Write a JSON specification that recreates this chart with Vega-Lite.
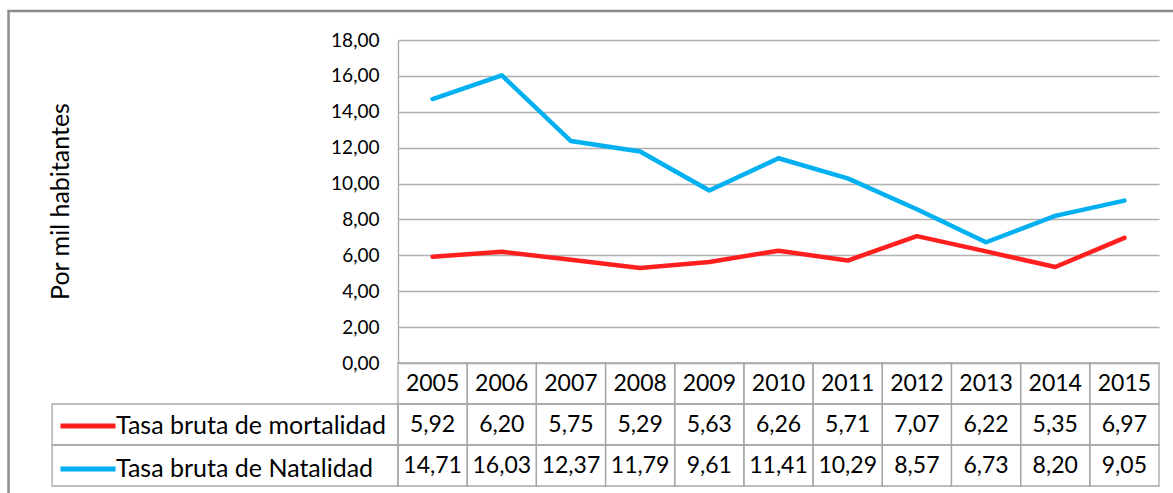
{
  "$schema": "https://vega.github.io/schema/vega-lite/v6.json",
  "width": 761,
  "height": 446,
  "autosize": {"type": "none"},
  "padding": {"left": 398, "top": 40, "right": 14, "bottom": 7},
  "background": "white",
  "datasets": {
    "tasas": [
      {"year": 2005, "serie": "Tasa bruta de mortalidad", "value": 5.92},
      {"year": 2006, "serie": "Tasa bruta de mortalidad", "value": 6.20},
      {"year": 2007, "serie": "Tasa bruta de mortalidad", "value": 5.75},
      {"year": 2008, "serie": "Tasa bruta de mortalidad", "value": 5.29},
      {"year": 2009, "serie": "Tasa bruta de mortalidad", "value": 5.63},
      {"year": 2010, "serie": "Tasa bruta de mortalidad", "value": 6.26},
      {"year": 2011, "serie": "Tasa bruta de mortalidad", "value": 5.71},
      {"year": 2012, "serie": "Tasa bruta de mortalidad", "value": 7.07},
      {"year": 2013, "serie": "Tasa bruta de mortalidad", "value": 6.22},
      {"year": 2014, "serie": "Tasa bruta de mortalidad", "value": 5.35},
      {"year": 2015, "serie": "Tasa bruta de mortalidad", "value": 6.97},
      {"year": 2005, "serie": "Tasa bruta de Natalidad", "value": 14.71},
      {"year": 2006, "serie": "Tasa bruta de Natalidad", "value": 16.03},
      {"year": 2007, "serie": "Tasa bruta de Natalidad", "value": 12.37},
      {"year": 2008, "serie": "Tasa bruta de Natalidad", "value": 11.79},
      {"year": 2009, "serie": "Tasa bruta de Natalidad", "value": 9.61},
      {"year": 2010, "serie": "Tasa bruta de Natalidad", "value": 11.41},
      {"year": 2011, "serie": "Tasa bruta de Natalidad", "value": 10.29},
      {"year": 2012, "serie": "Tasa bruta de Natalidad", "value": 8.57},
      {"year": 2013, "serie": "Tasa bruta de Natalidad", "value": 6.73},
      {"year": 2014, "serie": "Tasa bruta de Natalidad", "value": 8.20},
      {"year": 2015, "serie": "Tasa bruta de Natalidad", "value": 9.05}
    ]
  },
  "data": {"name": "tasas"},
  "resolve": {"scale": {"y": "independent"}},
  "layer": [
    {
      "layer": [
        {
          "data": {"values": [{}]},
          "mark": {"type": "rect", "filled": false, "stroke": "#8c8c8c", "strokeWidth": 2.5},
          "encoding": {
            "x": {"datum": 1998.87, "type": "quantitative", "scale": {"domain": [2004.5, 2015.5], "nice": false, "zero": false}, "axis": null},
            "x2": {"datum": 2016.5},
            "y": {"datum": 19.62, "type": "quantitative"},
            "y2": {"datum": -8}
          }
        },
        {
          "mark": {"type": "line", "strokeWidth": 4.5, "strokeJoin": "round", "strokeCap": "round"},
          "encoding": {
            "x": {"field": "year", "type": "quantitative", "axis": null},
            "y": {
              "field": "value",
              "type": "quantitative",
              "scale": {"domain": [0, 18], "range": [323, 0], "nice": false, "zero": true},
              "axis": {
                "values": [0, 2, 4, 6, 8, 10, 12, 14, 16, 18],
                "format": ".2f",
                "title": "Por mil habitantes",
                "titleFont": "Lato",
                "titleFontSize": 25,
                "titleFontWeight": "normal",
                "titleColor": "#000000",
                "titleAngle": -90,
                "titleX": -330,
                "titleY": 161,
                "titleAlign": "center",
                "titleBaseline": "alphabetic",
                "labelFont": "Lato",
                "labelFontSize": 19,
                "labelColor": "#000000",
                "labelPadding": 19,
                "ticks": false,
                "tickSize": 0,
                "domain": true,
                "domainColor": "#a6a6a6",
                "domainWidth": 1.3,
                "grid": true,
                "gridColor": "#b0b0b0",
                "gridWidth": 1.3
              }
            },
            "color": {
              "field": "serie",
              "type": "nominal",
              "scale": {"domain": ["Tasa bruta de mortalidad", "Tasa bruta de Natalidad"], "range": ["#ff1f1f", "#00b0f0"]},
              "legend": {
                "title": null,
                "orient": "none",
                "legendX": -340,
                "legendY": 356,
                "direction": "vertical",
                "symbolType": "stroke",
                "symbolSize": 3025,
                "symbolStrokeWidth": 5,
                "labelFont": "Lato",
                "labelFontSize": 25,
                "labelColor": "#000000",
                "labelOffset": -2,
                "labelLimit": 400,
                "rowPadding": -14,
                "padding": 0
              }
            }
          }
        }
      ]
    },
    {
      "layer": [
        {
          "transform": [
            {"calculate": "datum.year - 0.5", "as": "x0"},
            {"calculate": "datum.year + 0.5", "as": "x1"}
          ],
          "mark": {"type": "rect", "filled": false, "stroke": "#a6a6a6", "strokeWidth": 1.3},
          "encoding": {
            "x": {"field": "x0", "type": "quantitative", "axis": null},
            "x2": {"field": "x1"},
            "y": {
              "field": "serie",
              "type": "nominal",
              "scale": {"domain": ["Año", "Tasa bruta de mortalidad", "Tasa bruta de Natalidad"], "range": [323, 446], "paddingInner": 0, "paddingOuter": 0},
              "axis": null
            }
          }
        },
        {
          "transform": [
            {"filter": "datum.serie === 'Tasa bruta de mortalidad'"},
            {"calculate": "'Año'", "as": "fila"},
            {"calculate": "datum.year - 0.5", "as": "x0"},
            {"calculate": "datum.year + 0.5", "as": "x1"}
          ],
          "mark": {"type": "rect", "filled": false, "stroke": "#a6a6a6", "strokeWidth": 1.3},
          "encoding": {
            "x": {"field": "x0", "type": "quantitative", "axis": null},
            "x2": {"field": "x1"},
            "y": {"field": "fila", "type": "nominal", "axis": null}
          }
        },
        {
          "transform": [{"filter": "datum.year === 2005"}],
          "mark": {"type": "rect", "filled": false, "stroke": "#a6a6a6", "strokeWidth": 1.3},
          "encoding": {
            "x": {"datum": 1999.5, "type": "quantitative", "axis": null},
            "x2": {"datum": 2004.5},
            "y": {"field": "serie", "type": "nominal", "axis": null}
          }
        },
        {
          "transform": [
            {"filter": "datum.serie === 'Tasa bruta de mortalidad'"},
            {"calculate": "'Año'", "as": "fila"}
          ],
          "mark": {"type": "text", "font": "Lato", "fontSize": 23, "color": "#000000", "align": "center", "baseline": "middle"},
          "encoding": {
            "x": {"field": "year", "type": "quantitative", "axis": null},
            "y": {"field": "fila", "type": "nominal", "axis": null},
            "text": {"field": "year", "type": "nominal"}
          }
        },
        {
          "mark": {"type": "text", "font": "Lato", "fontSize": 23, "color": "#000000", "align": "center", "baseline": "middle"},
          "encoding": {
            "x": {"field": "year", "type": "quantitative", "axis": null},
            "y": {"field": "serie", "type": "nominal", "axis": null},
            "text": {"field": "value", "type": "quantitative", "format": ".2f"}
          }
        }
      ]
    }
  ],
  "config": {
    "view": {"stroke": null},
    "locale": {"number": {"decimal": ",", "thousands": ".", "grouping": [3], "currency": ["", " €"]}}
  }
}
